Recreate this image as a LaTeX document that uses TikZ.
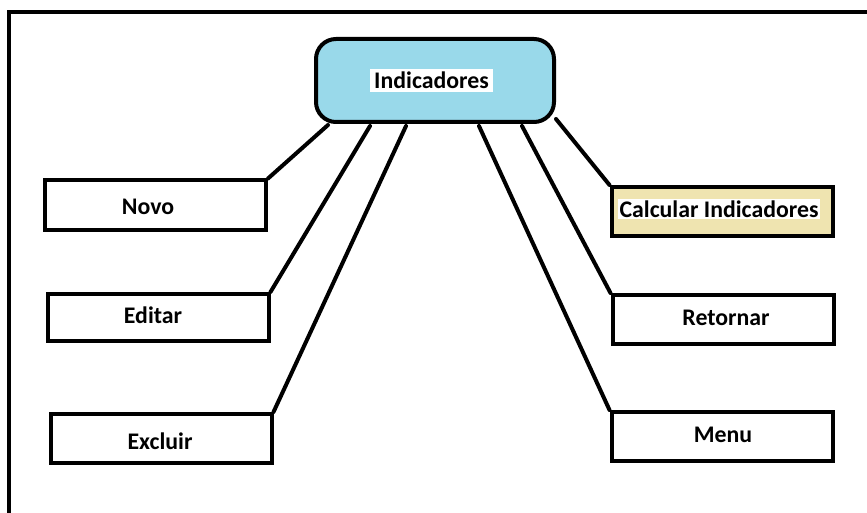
\documentclass[tikz,border=0pt]{standalone}
\usepackage{fontspec}
\setmainfont{Carlito}
\usetikzlibrary{calc}
\definecolor{indblue}{HTML}{99D9EA}
\definecolor{calcbeige}{HTML}{EFE4B0}
\tikzset{
  lw/.style={line width=4pt},
  menubox/.style={lw, draw=black, fill=white, minimum width=221pt, minimum height=49pt, inner sep=0pt},
  lbl/.style={font=\fontsize{23.8}{28}\selectfont\bfseries, text=black, inner sep=0pt},
  wlbl/.style={lbl, fill=white, inner xsep=4pt, inner ysep=3pt},
  conn/.style={lw, draw=black, line cap=round, line join=round}
}
\begin{document}
\begin{tikzpicture}[x=1pt,y=-1pt]
\useasboundingbox (0,0) rectangle (867,513);
% frame (top and left edges)
\draw[lw] (8.5,513) -- (8.5,12) -- (867,12);
% main node
\node[lw, draw=black, fill=indblue, rounded corners=20pt, minimum width=238pt, minimum height=83pt, inner sep=0pt] (ind) at (435,80.5) {};
\node[wlbl] (indt) at (431.5,80.5) {Indicadores};
% left boxes
\node[menubox] (novo) at (155.5,205) {};
\node[lbl] (novot) at (148,207) {Novo};
\node[menubox, minimum height=47pt] (edit) at (158,317.5) {};
\node[lbl] (editt) at (153,315) {Editar};
\node[menubox] (excl) at (161,438.5) {};
\node[lbl] (exclt) at (160,441) {Excluir};
% right boxes
\node[menubox, fill=calcbeige] (calc) at (722,211.5) {};
\node[wlbl, inner xsep=2pt, inner ysep=2pt] (calct) at (719,209) {Calcular Indicadores};
\node[menubox] (ret) at (723,319.5) {};
\node[lbl] (rett) at (726,318) {Retornar};
\node[menubox] (menu) at (722,436.5) {};
\node[lbl] (menut) at (723,435) {Menu};
% connectors
\draw[conn] (novo.north east) -- ($(ind.south west)+(14,1)$);
\draw[conn] (edit.north east) -- ($(ind.south west)+(56,2)$);
\draw[conn] (excl.north east) -- ($(ind.south west)+(92,2)$);
\draw[conn] (menu.north west) -- ($(ind.south east)+(-77,2)$);
\draw[conn] (ret.north west) -- ($(ind.south east)+(-34,2)$);
\draw[conn] (calc.north west) -- ($(ind.south east)+(0,-5)$);
\end{tikzpicture}
\end{document}
